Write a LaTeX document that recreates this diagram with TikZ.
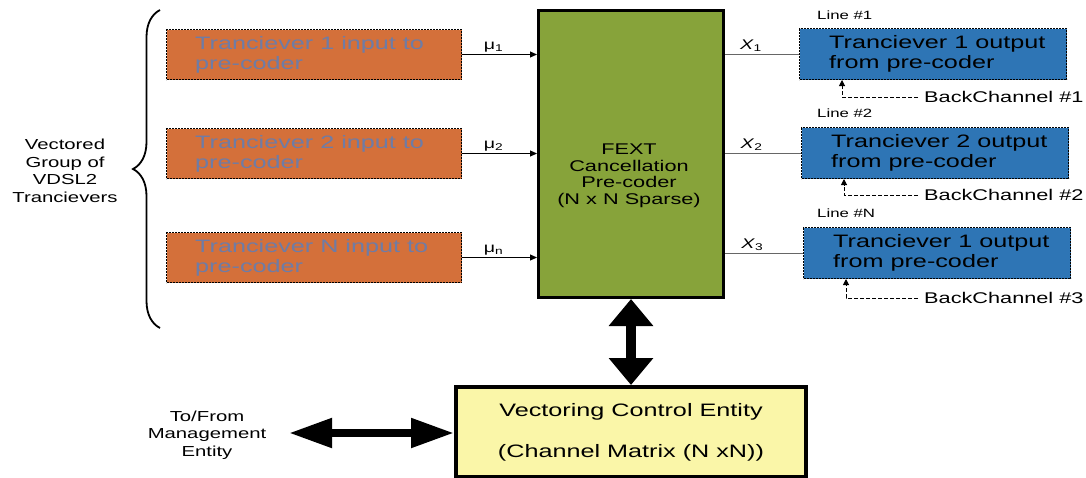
\documentclass[tikz,border=0pt]{standalone}
\usepackage{fontspec}
\setmainfont{Liberation Sans}[FakeStretch=1.4]
\usetikzlibrary{arrows.meta,decorations.pathreplacing}
\definecolor{inorange}{HTML}{D4703A}
\definecolor{outblue}{HTML}{2E75B5}
\definecolor{fextgreen}{HTML}{87A33A}
\definecolor{vceyellow}{HTML}{FAF6A8}
\definecolor{ingray}{HTML}{6E7CA6}
\newcommand\fsz[2]{\fontsize{#1}{#2}\selectfont}
\tikzset{
  inbox/.style={draw, fill=inorange, line width=1pt, dash pattern=on 2pt off 1pt,
    minimum width=295pt, minimum height=50pt, anchor=north west},
  outbox/.style={draw, fill=outblue, line width=1pt, dash pattern=on 2pt off 1pt,
    minimum width=267pt, minimum height=51pt, anchor=north west},
  boxtext/.style={anchor=west, align=left, inner sep=0pt, font=\fsz{18}{20}},
  fextbox/.style={draw, fill=fextgreen, line width=3pt, minimum width=185pt,
    minimum height=287pt, anchor=north west},
  vcebox/.style={draw, fill=vceyellow, line width=4pt, minimum width=350pt,
    minimum height=90pt, anchor=north west, align=center, font=\fsz{18}{18}},
  sidetext/.style={align=center, inner sep=0pt, font=\fsz{14.5}{17.5}},
  linelabel/.style={anchor=west, inner sep=0pt, font=\fsz{12}{12}},
  bctext/.style={anchor=west, inner sep=0pt, font=\fsz{15.5}{15.5}},
  inarrow/.style={line width=1pt, -{Triangle[length=7pt,width=6pt]}},
  outline/.style={line width=1pt, black!60},
  bcarrow/.style={line width=1pt, dash pattern=on 4pt off 2pt, -{Triangle[length=6pt,width=6pt]}},
  sig/.style={inner sep=2pt, font=\fsz{14}{14}}
}
\begin{document}
\begin{tikzpicture}[x=1pt, y=-1pt]
  \useasboundingbox (0,0) rectangle (1086,477);
  % pre-coder and control entity
  \node[fextbox] (pc) at (537,9) {};
  \node[align=center, inner sep=0pt, font=\fsz{15.5}{16.5}] (pctext) at (629,176)
      {FEXT\\Cancellation\\Pre-coder\\(N x N Sparse)};
  \node[vcebox] (vce) at (454,385) {Vectoring Control Entity\\[23pt](Channel Matrix (N xN))};
  % inputs
  \node[inbox] (in1) at (166,29) {};
  \node[boxtext, text=ingray] (in1t) at ([xshift=29pt]in1.west) {Tranciever 1 input to\\pre-coder};
  \node[inbox] (in2) at (166,128) {};
  \node[boxtext, text=ingray] (in2t) at ([xshift=29pt]in2.west) {Tranciever 2 input to\\pre-coder};
  \node[inbox] (in3) at (166,232) {};
  \node[boxtext, text=ingray] (in3t) at ([xshift=29pt]in3.west) {Tranciever N input to\\pre-coder};
  \draw[inarrow] (in1.east) -- (in1.east -| pc.west) node[sig, pos=0.42, above] (mu1) {μ\textsubscript{1}};
  \draw[inarrow] (in2.east) -- (in2.east -| pc.west) node[sig, pos=0.42, above] (mu2) {μ\textsubscript{2}};
  \draw[inarrow] (in3.east) -- (in3.east -| pc.west) node[sig, pos=0.42, above] (mu3) {μ\textsubscript{n}};
  % group brace
  \node[sidetext] (group) at (65,171) {Vectored\\Group of\\VDSL2\\Trancievers};
  \draw[line width=1.8pt, decorate, decoration={brace, amplitude=27pt}] (160,328) -- (160,10);
  % outputs
  \node[outbox] (out1) at (799,28) {};
  \node[boxtext] (out1t) at ([xshift=30pt]out1.west) {Tranciever 1 output\\from pre-coder};
  \node[outbox] (out2) at (801,127) {};
  \node[boxtext] (out2t) at ([xshift=30pt]out2.west) {Tranciever 2 output\\from pre-coder};
  \node[outbox] (out3) at (803,227) {};
  \node[boxtext] (out3t) at ([xshift=30pt]out3.west) {Tranciever 1 output\\from pre-coder};
  \draw[outline] (out1.west -| pc.east) -- (out1.west) node[sig, pos=0.35, above, text=black] (x1) {\textit{X}\textsubscript{1}};
  \draw[outline] (out2.west -| pc.east) -- (out2.west) node[sig, pos=0.35, above, text=black] (x2) {\textit{X}\textsubscript{2}};
  \draw[outline] (out3.west -| pc.east) -- (out3.west) node[sig, pos=0.35, above, text=black] (x3) {\textit{X}\textsubscript{3}};
  \node[linelabel] (line1) at (817,15) {Line \#1};
  \node[linelabel] (line2) at (817,113) {Line \#2};
  \node[linelabel] (line3) at (817,213) {Line \#N};
  % back channels
  \node[bctext] (bc1) at (924,97) {BackChannel \#1};
  \node[bctext] (bc2) at (924,195) {BackChannel \#2};
  \node[bctext] (bc3) at (924,298) {BackChannel \#3};
  \draw[bcarrow] ([xshift=-6pt]bc1.west) -| ([xshift=43pt]out1.south west);
  \draw[bcarrow] ([xshift=-6pt]bc2.west) -| ([xshift=43pt]out2.south west);
  \draw[bcarrow] ([xshift=-6pt]bc3.west) -| ([xshift=43pt]out3.south west);
  % control links
  \draw[line width=10pt, {Triangle[length=27pt,width=43pt]}-{Triangle[length=27pt,width=43pt]}]
      (pc.south -| 631,0) -- (vce.north -| 631,0);
  \node[sidetext] (mgmt) at (207,435) {To/From\\Management\\Entity};
  \coordinate (mgmtend) at (289,433);
  \draw[line width=8pt, {Triangle[length=43pt,width=28pt]}-{Triangle[length=43pt,width=28pt]}]
      (mgmtend) -- (mgmtend -| vce.west);
\end{tikzpicture}
\end{document}
